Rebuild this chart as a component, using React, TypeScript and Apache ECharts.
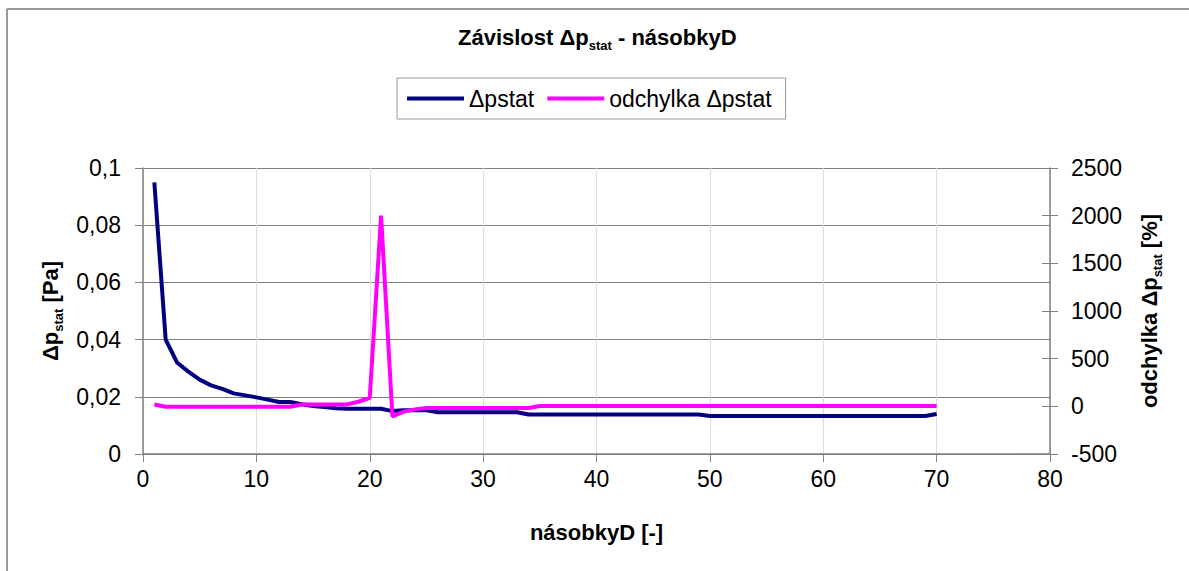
import React, { useEffect, useRef } from "react";
import * as echarts from "echarts";

const xValues = [
  1, 2, 3, 4, 5, 6, 7, 8, 9, 10, 11, 12, 13, 14, 15, 16, 17, 18, 19, 20,
  21, 22, 23, 24, 25, 26, 27, 28, 29, 30, 31, 32, 33, 34, 35, 36, 37, 38, 39, 40,
  41, 42, 43, 44, 45, 46, 47, 48, 49, 50, 51, 52, 53, 54, 55, 56, 57, 58, 59, 60,
  61, 62, 63, 64, 65, 66, 67, 68, 69, 70,
];

const dpStat = [
  0.095, 0.04, 0.032, 0.0288, 0.026, 0.024, 0.0228, 0.0212, 0.0205, 0.0198,
  0.019, 0.0182, 0.0182, 0.0174, 0.0168, 0.0164, 0.016, 0.0158, 0.0158, 0.0158,
  0.0158, 0.015, 0.0153, 0.0153, 0.0153, 0.0146, 0.0146, 0.0146, 0.0146, 0.0146,
  0.0146, 0.0146, 0.0146, 0.0138, 0.0138, 0.0138, 0.0138, 0.0138, 0.0138, 0.0138,
  0.0138, 0.0138, 0.0138, 0.0138, 0.0138, 0.0138, 0.0138, 0.0138, 0.0138, 0.0133,
  0.0133, 0.0133, 0.0133, 0.0133, 0.0133, 0.0133, 0.0133, 0.0133, 0.0133, 0.0133,
  0.0133, 0.0133, 0.0133, 0.0133, 0.0133, 0.0133, 0.0133, 0.0133, 0.0133, 0.014,
];

const odchylka = [
  20, -4, -4, -4, -4, -4, -4, -4, -4, -4,
  -4, -4, -4, 20, 20, 20, 20, 20, 48, 90,
  2000, -105, -55, -32, -18, -18, -18, -18, -18, -18,
  -18, -18, -18, -18, 3, 3, 3, 3, 3, 3,
  3, 3, 3, 3, 3, 3, 3, 3, 3, 3,
  3, 3, 3, 3, 3, 3, 3, 3, 3, 3,
  3, 3, 3, 3, 3, 3, 3, 3, 3, 3,
];

const seriesNames = ["Δpstat", "odchylka Δpstat"];
const titleParts = ["Závislost Δp", "stat", " - násobkyD"];
const xAxisName = "násobkyD [-]";
const leftNameParts = ["Δp", "stat", " [Pa]"];
const rightNameParts = ["odchylka Δp", "stat", " [%]"];

const FONT = '"Liberation Sans", Arial, sans-serif';

const richBold = {
  b: { fontSize: 22, fontWeight: "bold", fontFamily: FONT, color: "#000" },
  s: {
    fontSize: 13,
    fontWeight: "bold",
    fontFamily: FONT,
    color: "#000",
    verticalAlign: "bottom",
    padding: [0, 0, -4, 0],
  },
};

export default function App() {
  const ref = useRef<HTMLDivElement>(null);

  useEffect(() => {
    if (!ref.current) return;
    const chart = echarts.init(ref.current, null, { renderer: "svg" });
    const gridCol = "#808080";
    const option: any = {
      animation: false,
      backgroundColor: "#ffffff",
      textStyle: { fontFamily: FONT, color: "#000" },
      title: {
        text: `{b|${titleParts[0]}}{s|${titleParts[1]}}{b|${titleParts[2]}}`,
        left: 458,
        top: 26,
        padding: 0,
        textStyle: { rich: richBold },
      },
      legend: {
        data: seriesNames,
        left: 397,
        top: 78,
        padding: [9, 14, 9, 10],
        itemGap: 13,
        itemWidth: 57,
        itemHeight: 4,
        icon: "rect",
        borderColor: "#999",
        borderWidth: 1,
        textStyle: { fontSize: 23, fontFamily: FONT, color: "#000" },
      },
      grid: { left: 143, right: 139, top: 168, bottom: 117, containLabel: false },
      xAxis: {
        type: "value",
        min: 0,
        max: 80,
        interval: 10,
        axisLine: { show: true, lineStyle: { color: gridCol, width: 1.5 } },
        axisTick: { show: true, length: 8, lineStyle: { color: gridCol } },
        splitLine: { show: true, lineStyle: { color: "#dcdcdc", width: 1 } },
        axisLabel: { fontSize: 23, color: "#000", margin: 13, fontFamily: FONT },
        name: xAxisName,
        nameLocation: "middle",
        nameGap: 67,
        nameTextStyle: { fontSize: 22, fontWeight: "bold", color: "#000", fontFamily: FONT },
      },
      yAxis: [
        {
          type: "value",
          position: "left",
          min: 0,
          max: 0.1,
          interval: 0.02,
          axisLine: { show: true, lineStyle: { color: gridCol, width: 1.5 } },
          axisTick: { show: true, length: 8, lineStyle: { color: gridCol } },
          splitLine: { show: true, lineStyle: { color: gridCol, width: 1 } },
          axisLabel: {
            fontSize: 23,
            color: "#000",
            margin: 22,
            fontFamily: FONT,
            formatter: (v: number) => String(parseFloat(v.toFixed(4))).replace(".", ","),
          },
          name: `{b|${leftNameParts[0]}}{s|${leftNameParts[1]}}{b|${leftNameParts[2]}}`,
          nameLocation: "middle",
          nameRotate: 90,
          nameGap: 80,
          nameTextStyle: { rich: richBold },
        },
        {
          type: "value",
          position: "right",
          min: -500,
          max: 2500,
          interval: 500,
          axisLine: { show: true, lineStyle: { color: gridCol, width: 1.5 } },
          axisTick: { show: true, length: 8, lineStyle: { color: gridCol } },
          splitLine: { show: false },
          axisLabel: {
            fontSize: 23,
            color: "#000",
            margin: 21,
            fontFamily: FONT,
            formatter: (v: number) => String(Math.round(v)),
          },
          name: `{b|${rightNameParts[0]}}{s|${rightNameParts[1]}}{b|${rightNameParts[2]}}`,
          nameLocation: "middle",
          nameRotate: 90,
          nameGap: 88,
          nameTextStyle: { rich: richBold },
        },
        {
          type: "value",
          position: "right",
          min: -500,
          max: 2500,
          interval: 500,
          axisLine: { show: false },
          axisTick: { show: true, inside: true, length: 8, lineStyle: { color: gridCol } },
          splitLine: { show: false },
          axisLabel: { show: false },
        },
      ],
      series: [
        {
          name: seriesNames[0],
          type: "line",
          yAxisIndex: 0,
          symbol: "none",
          data: xValues.map((x, i) => [x, dpStat[i]]),
          lineStyle: { color: "#000080", width: 4 },
          itemStyle: { color: "#000080" },
        },
        {
          name: seriesNames[1],
          type: "line",
          yAxisIndex: 1,
          symbol: "none",
          data: xValues.map((x, i) => [x, odchylka[i]]),
          lineStyle: { color: "#ff00ff", width: 4 },
          itemStyle: { color: "#ff00ff" },
        },
      ],
      graphic: [
        {
          type: "line",
          shape: { x1: 7, y1: 9, x2: 1189, y2: 9 },
          style: { stroke: "#999", lineWidth: 2 },
        },
        {
          type: "line",
          shape: { x1: 7, y1: 9, x2: 7, y2: 571 },
          style: { stroke: "#999", lineWidth: 2 },
        },
      ],
    };
    chart.setOption(option);
    return () => chart.dispose();
  }, []);

  return (
    <div
      ref={ref}
      style={{ position: "fixed", left: 0, top: 0, width: 1189, height: 571, background: "#fff" }}
    />
  );
}
